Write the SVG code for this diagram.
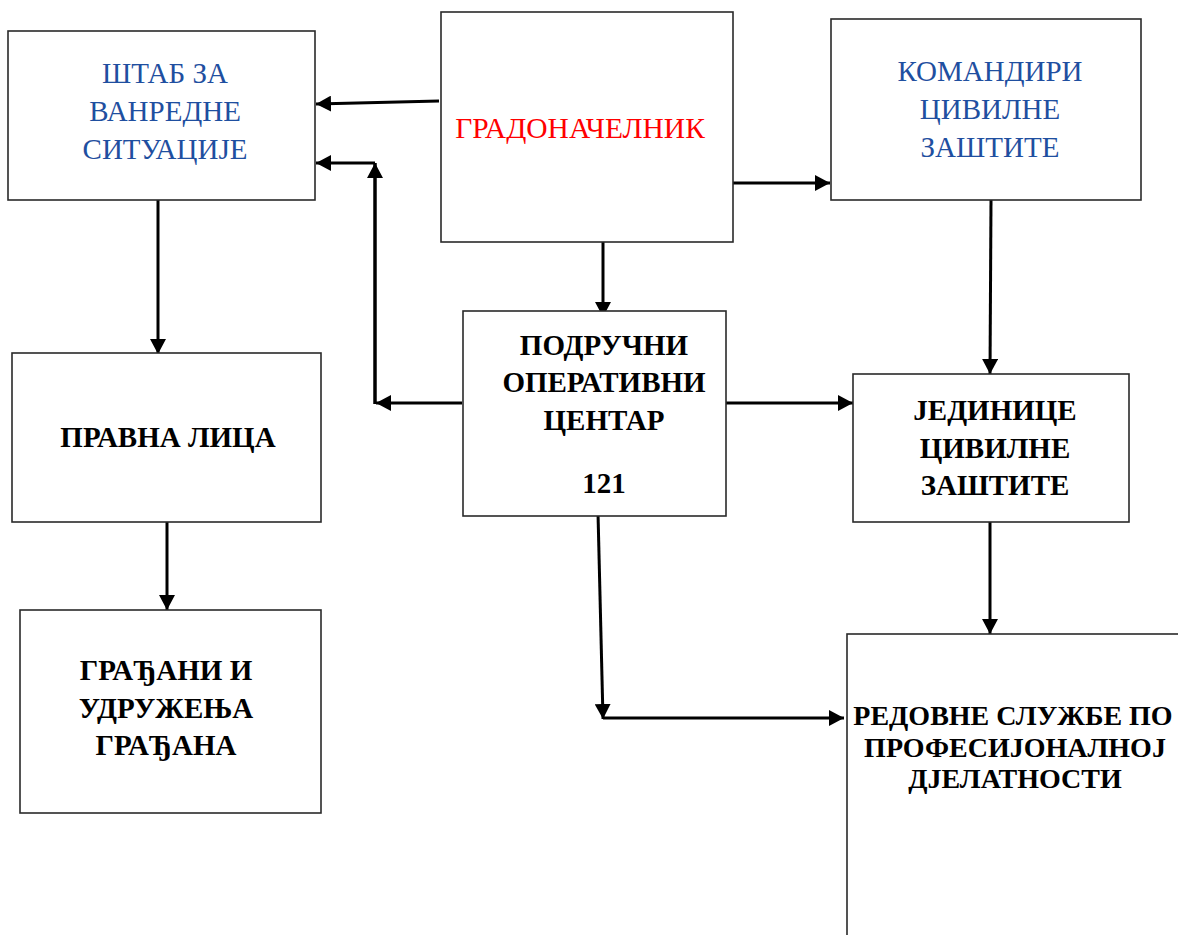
<svg xmlns="http://www.w3.org/2000/svg" width="1178" height="935" viewBox="0 0 1178 935">
<style>
.box{fill:#fff;stroke:#2a2a2a;stroke-width:1.6}
.t{font-family:"Liberation Serif","Times New Roman",serif;font-size:29px;text-anchor:middle}
.blue{fill:#1f4fa0}
.red{fill:#ff0000;font-size:29.5px}
.b{font-weight:bold;fill:#000}
.sm{font-size:28px}
.c{fill:none;stroke:#000;stroke-width:3}
</style>
<defs>
<marker id="ah" markerUnits="userSpaceOnUse" markerWidth="16" markerHeight="16" refX="15" refY="8" orient="auto">
<path d="M0,0 L15,8 L0,16 z" fill="#000"/>
</marker>
</defs>
<rect width="1178" height="935" fill="#fff"/>
<g id="connectors">
<line class="c" x1="439" y1="101" x2="316" y2="104" marker-end="url(#ah)"/>
<line class="c" x1="733" y1="183" x2="830" y2="183" marker-end="url(#ah)"/>
<line class="c" x1="603" y1="242" x2="603" y2="317" marker-end="url(#ah)"/>
<line class="c" x1="462" y1="403" x2="376" y2="403" marker-end="url(#ah)"/>
<line class="c" x1="375" y1="404" x2="375" y2="163" marker-end="url(#ah)" style="stroke-width:3.5"/>
<line class="c" x1="375" y1="163" x2="316" y2="163" marker-end="url(#ah)"/>
<line class="c" x1="722" y1="403" x2="853" y2="403" marker-end="url(#ah)"/>
<line class="c" x1="158" y1="200" x2="158" y2="354" marker-end="url(#ah)"/>
<line class="c" x1="167" y1="522" x2="167" y2="610" marker-end="url(#ah)"/>
<line class="c" x1="991" y1="200" x2="990" y2="374" marker-end="url(#ah)"/>
<line class="c" x1="990" y1="522" x2="990" y2="634" marker-end="url(#ah)"/>
<line class="c" x1="598" y1="513" x2="603" y2="719" marker-end="url(#ah)"/>
<line class="c" x1="603" y1="718" x2="844" y2="718" marker-end="url(#ah)"/>
</g>
<g id="stab">
<rect class="box" x="8" y="31" width="307" height="169"/>
<text class="t blue" x="165" y="83">ШТАБ ЗА</text>
<text class="t blue" x="165" y="121">ВАНРЕДНЕ</text>
<text class="t blue" x="165" y="159">СИТУАЦИЈЕ</text>
</g>
<g id="gradonacelnik">
<rect class="box" x="441" y="12" width="292" height="230"/>
<text class="t red" x="580" y="138">ГРАДОНАЧЕЛНИК</text>
</g>
<g id="komandiri">
<rect class="box" x="831" y="19" width="310" height="181"/>
<text class="t blue" x="990" y="81">КОМАНДИРИ</text>
<text class="t blue" x="990" y="119">ЦИВИЛНЕ</text>
<text class="t blue" x="990" y="157">ЗАШТИТЕ</text>
</g>
<g id="poc">
<rect class="box" x="463" y="311" width="263" height="205"/>
<text class="t b" x="604" y="355">ПОДРУЧНИ</text>
<text class="t b" x="604" y="392">ОПЕРАТИВНИ</text>
<text class="t b" x="604" y="430">ЦЕНТАР</text>
<text class="t b" x="604" y="493">121</text>
</g>
<g id="jedinice">
<rect class="box" x="853" y="374" width="276" height="148"/>
<text class="t b" x="995" y="420">ЈЕДИНИЦЕ</text>
<text class="t b" x="995" y="458">ЦИВИЛНЕ</text>
<text class="t b" x="995" y="495">ЗАШТИТЕ</text>
</g>
<g id="pravna">
<rect class="box" x="12" y="353" width="309" height="169"/>
<text class="t b" x="168" y="447">ПРАВНА ЛИЦА</text>
</g>
<g id="gradjani">
<rect class="box" x="20" y="610" width="301" height="203"/>
<text class="t b" x="166" y="680">ГРАЂАНИ И</text>
<text class="t b" x="166" y="718">УДРУЖЕЊА</text>
<text class="t b" x="166" y="755">ГРАЂАНА</text>
</g>
<g id="redovne">
<rect class="box" x="847" y="634" width="340" height="320"/>
<text class="t b sm" x="1013" y="725">РЕДОВНЕ СЛУЖБЕ ПО</text>
<text class="t b sm" x="1015" y="757">ПРОФЕСИЈОНАЛНОЈ</text>
<text class="t b sm" x="1015" y="788">ДЈЕЛАТНОСТИ</text>
</g>
</svg>
